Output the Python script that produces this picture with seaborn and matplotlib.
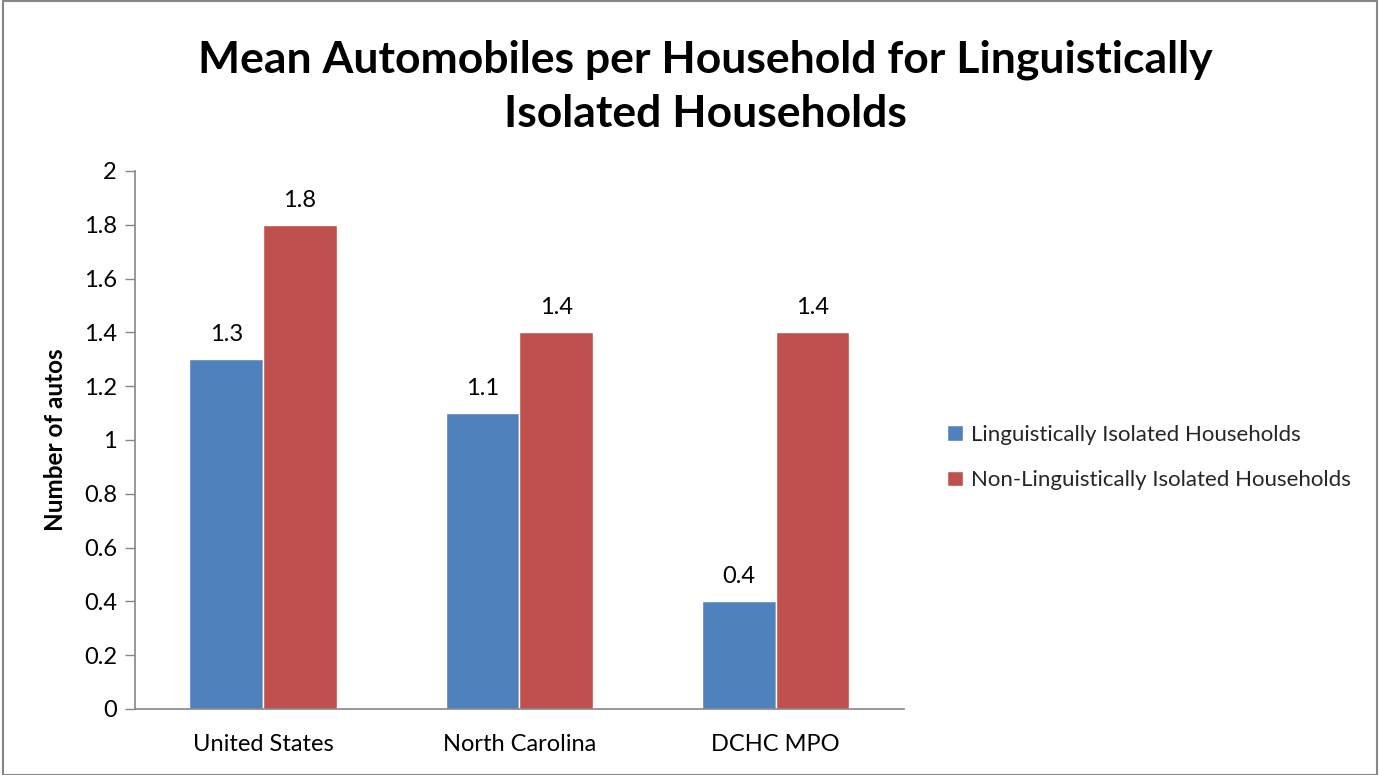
import pandas as pd
import numpy as np
import matplotlib.pyplot as plt
import seaborn as sns
from matplotlib.patches import Rectangle

# Data
regions = ['United States', 'North Carolina', 'DCHC MPO']
series = ['Linguistically Isolated Households', 'Non-Linguistically Isolated Households']
isolated = [1.3, 1.1, 0.4]
non_isolated = [1.8, 1.4, 1.4]

df = pd.DataFrame({
    'region': regions * 2,
    'group': [series[0]] * 3 + [series[1]] * 3,
    'autos': isolated + non_isolated,
})

colors = {series[0]: '#4f81bd', series[1]: '#c0504d'}

sns.set_theme(style='white')
plt.rcParams['font.family'] = ['Lato', 'DejaVu Sans']

fig = plt.figure(figsize=(13.8, 7.75), dpi=100)
ax = fig.add_axes([0.0978, 0.0852, 0.5572, 0.6942])

sns.barplot(data=df, x='region', y='autos', hue='group', palette=colors,
            width=0.575, saturation=1, ax=ax, gap=0)

# data labels
for cont in ax.containers:
    ax.bar_label(cont, labels=[f'{v:.1f}' for v in cont.datavalues],
                 padding=10, fontsize=17, color='black')

ax.set_ylim(0, 2)
ax.set_xlim(-0.5, 2.5)
ax.set_yticks(np.arange(0, 2.01, 0.2))
ax.set_yticklabels(['0', '0.2', '0.4', '0.6', '0.8', '1', '1.2', '1.4', '1.6', '1.8', '2'])
ax.tick_params(axis='y', which='major', left=True, length=7, width=1, color='#868686',
               labelsize=17, pad=6, labelcolor='black')
ax.tick_params(axis='x', bottom=False, labelsize=17, pad=12, labelcolor='black')

sns.despine(ax=ax, top=True, right=True)
for s in ['left', 'bottom']:
    ax.spines[s].set_color('#868686')
    ax.spines[s].set_linewidth(1.2)

ax.set_xlabel('')
ax.set_ylabel('Number of autos', fontsize=17.5, fontweight='bold', labelpad=12, color='black')

# legend
ax.legend(loc='center left', bbox_to_anchor=(1.03, 0.467), frameon=False,
          fontsize=16, handlelength=0.7, handleheight=0.7, handletextpad=0.4,
          labelspacing=1.15)

fig.text(0.511, 0.888, 'Mean Automobiles per Household for Linguistically\nIsolated Households',
         ha='center', va='center', fontsize=32, fontweight='bold', linespacing=1.45,
         color='black')

# chart border
fig.patches.append(Rectangle((0.002, 0.0), 0.996, 0.999, transform=fig.transFigure,
                             fill=False, edgecolor='#868686', linewidth=1.5))

fig.savefig('out.png', dpi=100, facecolor='white')
